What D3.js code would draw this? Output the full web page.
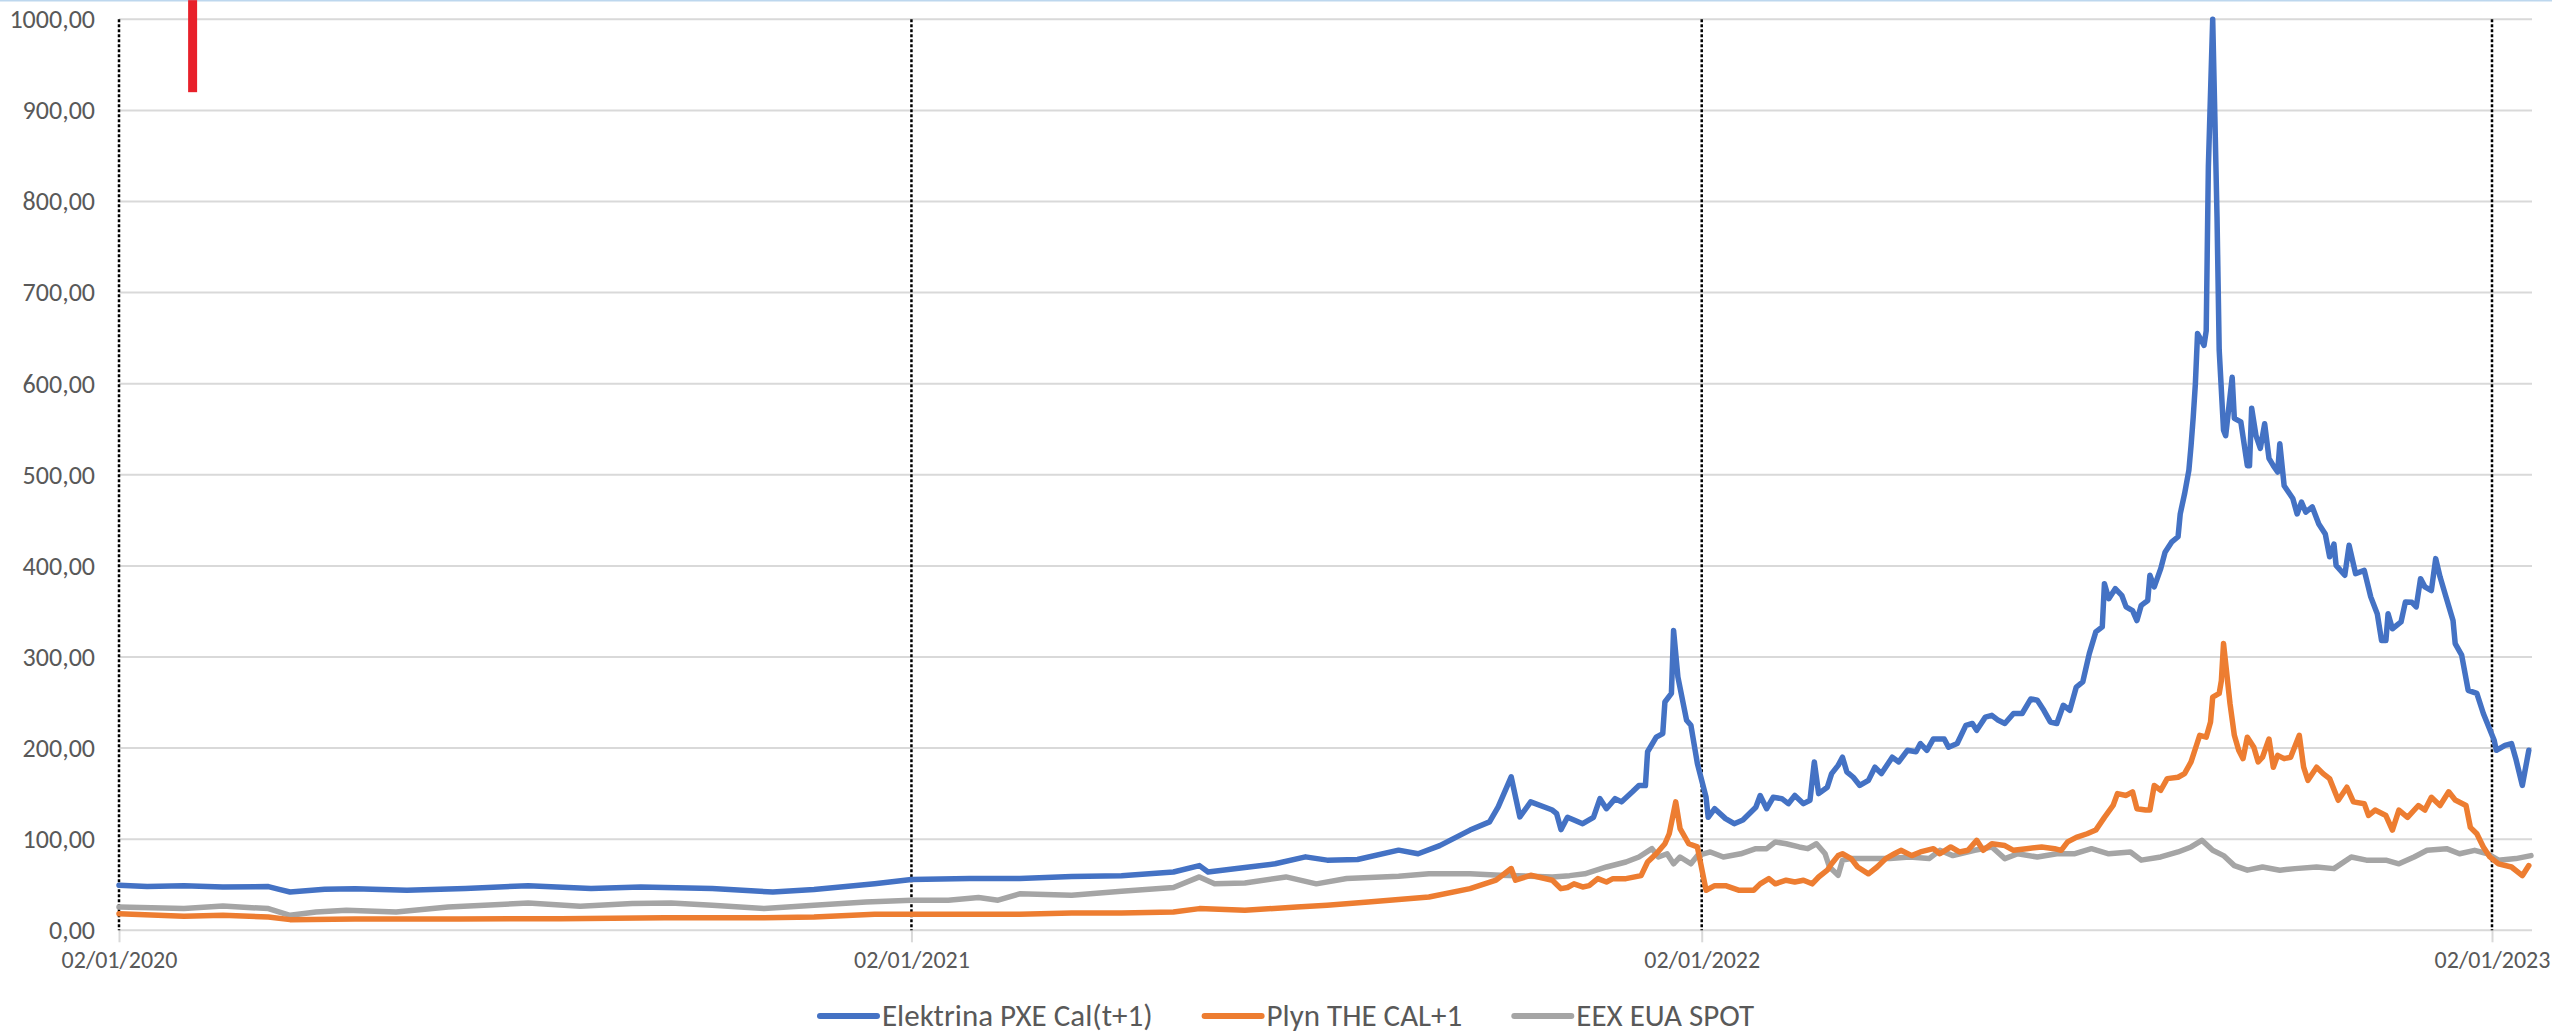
<!DOCTYPE html>
<html>
<head>
<meta charset="utf-8">
<script src="https://cdn.jsdelivr.net/npm/d3@7"></script>
<style>
  html, body { margin: 0; padding: 0; background: #fff; }
  #chart { width: 2552px; height: 1033px; overflow: hidden; }
  text { font-family: Carlito, Calibri, Lato, sans-serif; fill: #595959; }
</style>
</head>
<body>
<div id="chart"></div>
<script>
// series names as shown in the legend
const seriesNames = ["Elektrina PXE Cal(t+1)", "Plyn THE CAL+1", "EEX EUA SPOT"];

// [date, value]
const elektrina = [
  ["2020-01-02",49.5],["2020-01-15",48],["2020-02-01",49],["2020-02-19",47.5],["2020-03-11",48],["2020-03-16",45],["2020-03-21",42],
  ["2020-04-06",45],["2020-04-20",45.5],["2020-05-14",44],["2020-06-10",46],["2020-07-09",49],["2020-08-07",46],["2020-08-30",47.6],
  ["2020-10-02",46],["2020-10-30",42],["2020-11-18",44.7],["2020-12-16",51],
  ["2021-01-02",55.7],["2021-01-29",56.8],["2021-02-21",56.8],["2021-03-17",59],["2021-04-09",60],["2021-05-03",64],["2021-05-15",71],
  ["2021-05-19",64],["2021-06-05",69],["2021-06-19",73],["2021-07-03",80.6],["2021-07-13",77],["2021-07-27",77.7],["2021-08-15",88],
  ["2021-08-24",84],["2021-09-03",93],["2021-09-17",110],["2021-09-26",119],["2021-09-30",135.5],["2021-10-06",168.5],["2021-10-10",124.5],
  ["2021-10-15",141],["2021-10-25",132],["2021-10-27",128],["2021-10-29",110.5],["2021-11-01",124],["2021-11-04",121],["2021-11-08",117],
  ["2021-11-13",124],["2021-11-16",144.5],["2021-11-19",133.5],["2021-11-23",144.5],["2021-11-26",141],["2021-12-01",152],["2021-12-04",159],
  ["2021-12-07",159],["2021-12-08",196],["2021-12-12",212],["2021-12-15",216],["2021-12-16",250.6],["2021-12-19",260],["2021-12-20",329],
  ["2021-12-22",278],["2021-12-26",230.5],["2021-12-28",225],["2021-12-31",183],
  ["2022-01-04",146],["2022-01-05",124],["2022-01-08",133.5],["2022-01-13",122.6],["2022-01-17",117],["2022-01-21",121],["2022-01-27",135],
  ["2022-01-29",148],["2022-02-01",133.5],["2022-02-04",146],["2022-02-08",144.5],["2022-02-11",139],["2022-02-14",148],["2022-02-18",139],
  ["2022-02-21",142.7],["2022-02-23",184.8],["2022-02-25",150],["2022-03-01",157],["2022-03-03",172],["2022-03-06",181],["2022-03-08",190],
  ["2022-03-10",174],["2022-03-13",168],["2022-03-16",159],["2022-03-20",164.6],["2022-03-23",179],["2022-03-26",172],["2022-03-31",190],
  ["2022-04-03",184.8],["2022-04-07",197.6],["2022-04-11",196],["2022-04-13",205],["2022-04-16",197.6],["2022-04-19",210],["2022-04-24",210],
  ["2022-04-26",201],["2022-04-30",205],["2022-05-04",225],["2022-05-07",227],["2022-05-09",219.5],["2022-05-13",234],["2022-05-16",236],
  ["2022-05-19",230.5],["2022-05-22",227],["2022-05-26",238],["2022-05-30",238],["2022-06-03",254],["2022-06-06",252.5],["2022-06-09",241.5],
  ["2022-06-12",228.7],["2022-06-15",227],["2022-06-18",247],["2022-06-21",241.5],["2022-06-24",267],["2022-06-27",272.6],["2022-06-30",303.7],
  ["2022-07-03",327.5],["2022-07-06",333],["2022-07-07",380.5],["2022-07-09",364],["2022-07-12",375],["2022-07-15",367.7],["2022-07-17",355],
  ["2022-07-20",351],["2022-07-22",340],["2022-07-24",356.7],["2022-07-27",362],["2022-07-28",389.7],["2022-07-30",377],["2022-08-02",397],
  ["2022-08-04",415],["2022-08-07",426],["2022-08-10",432],["2022-08-11",457],["2022-08-13",479],["2022-08-15",505],["2022-08-16",532],
  ["2022-08-17",563],["2022-08-18",600],["2022-08-19",655],["2022-08-22",642],["2022-08-23",658],["2022-08-24",838],["2022-08-26",1000],
  ["2022-08-27",893],["2022-08-28",783],["2022-08-29",637],["2022-08-31",549],["2022-09-01",543],["2022-09-04",607],["2022-09-05",562],
  ["2022-09-08",558],["2022-09-11",510],["2022-09-12",510],["2022-09-13",573],["2022-09-15",543],["2022-09-17",529],["2022-09-19",556],
  ["2022-09-21",518],["2022-09-23",510],["2022-09-25",503],["2022-09-26",534],["2022-09-28",488],["2022-10-02",474],["2022-10-04",457],
  ["2022-10-06",470],["2022-10-08",459],["2022-10-11",464.7],["2022-10-14",446],["2022-10-17",435],["2022-10-19",410],["2022-10-21",424],
  ["2022-10-22",400.6],["2022-10-26",389.7],["2022-10-28",422.6],["2022-10-31",391.5],["2022-11-04",395],["2022-11-07",366],["2022-11-10",347.6],
  ["2022-11-12",318],["2022-11-14",318],["2022-11-15",347.6],["2022-11-17",331],["2022-11-21",338.5],["2022-11-23",360.4],["2022-11-26",360],
  ["2022-11-28",355],["2022-11-30",386],["2022-12-02",377],["2022-12-05",373],["2022-12-07",408],["2022-12-09",388],["2022-12-12",364],
  ["2022-12-15",340],["2022-12-16",314.7],["2022-12-19",302],["2022-12-22",263.4],["2022-12-26",260],["2022-12-29",238],["2023-01-03",208.6],
  ["2023-01-04",197.6],["2023-01-08",203],["2023-01-11",205],["2023-01-13",188.4],["2023-01-16",159],["2023-01-19",197.6]
];

const plyn = [
  ["2020-01-02",18.3],["2020-02-01",15.4],["2020-02-19",16.5],["2020-03-11",14.7],["2020-03-21",11.7],["2020-04-20",12.5],["2020-06-07",12.5],
  ["2020-07-24",12.8],["2020-09-10",13.9],["2020-10-26",13.9],["2020-11-18",14.7],["2020-12-16",17.6],
  ["2021-01-02",17.6],["2021-01-29",17.6],["2021-02-21",17.6],["2021-03-17",19],["2021-04-09",19],["2021-05-03",20],["2021-05-15",23.8],
  ["2021-06-05",22],["2021-06-29",25.6],["2021-07-13",27.5],["2021-08-01",31],["2021-08-15",33.7],["2021-08-29",36.6],["2021-09-17",45.8],
  ["2021-09-29",55],["2021-10-06",67.8],["2021-10-08",55],["2021-10-15",60.4],["2021-10-25",55],["2021-10-29",45.7],["2021-11-01",47],
  ["2021-11-04",51],["2021-11-08",47.6],["2021-11-11",49],["2021-11-15",56.7],["2021-11-19",53],["2021-11-22",56.7],["2021-11-28",56.7],
  ["2021-12-05",60],["2021-12-08",75],["2021-12-12",84],["2021-12-16",95],["2021-12-18",106],["2021-12-21",141],["2021-12-23",111.6],
  ["2021-12-27",95],["2021-12-31",91.5],
  ["2022-01-04",44],["2022-01-08",49],["2022-01-13",49],["2022-01-19",44],["2022-01-26",44],["2022-01-29",51],["2022-02-02",56.7],
  ["2022-02-05",51],["2022-02-10",55],["2022-02-14",53],["2022-02-18",55],["2022-02-22",51],["2022-02-25",58.5],["2022-03-01",66],
  ["2022-03-03",73],["2022-03-06",82],["2022-03-08",84],["2022-03-12",78.7],["2022-03-15",69.5],["2022-03-20",62],["2022-03-24",69.5],
  ["2022-03-28",78.7],["2022-04-01",84],["2022-04-04",87.8],["2022-04-09",82],["2022-04-13",86],["2022-04-19",89.6],["2022-04-22",84],
  ["2022-04-27",91.5],["2022-05-01",86],["2022-05-05",87.8],["2022-05-09",98.8],["2022-05-12",87.8],["2022-05-16",95],["2022-05-22",93],
  ["2022-05-26",87.8],["2022-06-01",89.6],["2022-06-08",91.5],["2022-06-14",89.6],["2022-06-17",87.8],["2022-06-20",97],["2022-06-24",102],
  ["2022-06-29",106],["2022-07-03",110],["2022-07-07",124],["2022-07-11",137],["2022-07-13",150],["2022-07-17",148],["2022-07-20",152],
  ["2022-07-22",133.5],["2022-07-26",132],["2022-07-28",132],["2022-07-30",159],["2022-08-02",153.7],["2022-08-05",166.5],["2022-08-10",168],
  ["2022-08-13",172],["2022-08-16",184.8],["2022-08-19",206.7],["2022-08-20",214],["2022-08-23",212],["2022-08-25",228.7],["2022-08-26",256],
  ["2022-08-29",260],["2022-08-30",274],["2022-08-31",314.7],["2022-09-03",248.8],["2022-09-05",214],["2022-09-07",197.6],["2022-09-09",188.4],
  ["2022-09-11",212],["2022-09-14",201],["2022-09-16",184.8],["2022-09-18",190],["2022-09-21",210],["2022-09-23",179],["2022-09-25",192],
  ["2022-09-28",188.4],["2022-10-01",190],["2022-10-05",214],["2022-10-07",179],["2022-10-09",164.6],["2022-10-13",179],["2022-10-16",172],
  ["2022-10-19",166.5],["2022-10-23",142.7],["2022-10-27",157],["2022-10-30",141],["2022-11-04",139],["2022-11-06",126],["2022-11-09",132],
  ["2022-11-14",126],["2022-11-17",110],["2022-11-20",132],["2022-11-24",124],["2022-11-29",137],["2022-12-02",132],["2022-12-05",146],
  ["2022-12-09",137],["2022-12-13",152],["2022-12-16",143],["2022-12-21",137],["2022-12-23",113],["2022-12-26",106],["2022-12-29",91.5],
  ["2023-01-01",80.5],["2023-01-05",73],["2023-01-11",69.5],["2023-01-16",60],["2023-01-19",71]
];

const euaSpot = [
  ["2020-01-02",25.6],["2020-02-01",23.8],["2020-02-19",26.7],["2020-03-11",23.8],["2020-03-21",16.5],["2020-04-02",20],["2020-04-16",22],
  ["2020-05-09",20],["2020-06-02",25.6],["2020-07-09",30],["2020-08-02",26.4],["2020-08-26",29.3],["2020-09-13",30],["2020-10-02",27.5],
  ["2020-10-26",23.8],["2020-11-18",27.5],["2020-12-12",31],
  ["2021-01-02",33],["2021-01-19",33],["2021-02-02",35.9],["2021-02-11",33],["2021-02-21",40],["2021-03-17",38.5],["2021-04-09",42.9],
  ["2021-05-03",46.9],["2021-05-15",58.6],["2021-05-22",51],["2021-06-05",52],["2021-06-24",58.6],["2021-07-08",51],["2021-07-22",56.8],
  ["2021-08-15",59.3],["2021-08-29",62],["2021-09-17",62],["2021-10-01",60.4],["2021-10-15",59.3],["2021-10-25",58.5],["2021-11-02",60],
  ["2021-11-09",62],["2021-11-19",69.5],["2021-11-28",75],["2021-12-04",80.5],["2021-12-10",89.6],["2021-12-13",80.5],["2021-12-17",84],
  ["2021-12-20",73],["2021-12-23",80.5],["2021-12-28",73],["2021-12-31",82],
  ["2022-01-06",86],["2022-01-12",80.5],["2022-01-20",84],["2022-01-27",89.6],["2022-02-01",89.6],["2022-02-05",97],["2022-02-10",95],
  ["2022-02-16",91.5],["2022-02-20",89.6],["2022-02-24",95],["2022-02-28",84],["2022-03-02",69.5],["2022-03-06",60.4],["2022-03-08",77],
  ["2022-03-12",78.7],["2022-03-21",78.7],["2022-03-30",78.7],["2022-04-08",80.5],["2022-04-17",78.7],["2022-04-22",87.8],["2022-04-28",82],
  ["2022-05-08",87.8],["2022-05-16",91.5],["2022-05-22",78.7],["2022-05-28",84],["2022-06-06",80.5],["2022-06-15",84],["2022-06-23",84],
  ["2022-07-01",89.6],["2022-07-09",84],["2022-07-19",86],["2022-07-24",77],["2022-08-02",80.5],["2022-08-10",86],["2022-08-16",91.5],
  ["2022-08-21",98.8],["2022-08-26",87.8],["2022-08-31",82],["2022-09-05",71],["2022-09-11",66],["2022-09-18",69.5],["2022-09-26",66],
  ["2022-10-03",67.7],["2022-10-13",69.5],["2022-10-21",67.7],["2022-10-29",80.5],["2022-11-05",77],["2022-11-14",77],["2022-11-20",73],
  ["2022-11-27",80.5],["2022-12-03",87.8],["2022-12-12",89.6],["2022-12-18",84],["2022-12-25",87.8],["2022-12-31",84],["2023-01-05",77],
  ["2023-01-13",78.7],["2023-01-20",82]
];

// axis ticks
const yTicks = [0, 100, 200, 300, 400, 500, 600, 700, 800, 900, 1000];
const xTickDates = ["2020-01-02", "2021-01-02", "2022-01-02", "2023-01-02"];

// red marker near the top left corner (date, value range)
const marker = { date: "2020-02-05", from: 920, to: 1021 };

let width = 2552,
    height = 1033,
    plotLeft = 119,
    plotRight = 2532,
    plotTop = 19.3,
    plotBottom = 930.3,
    colors = ["#4472c4", "#ed7d31", "#a5a5a5"],
    lineStroke = 5.5;

let parse = d3.timeParse("%Y-%m-%d");
let data = [elektrina, plyn, euaSpot].map((s, i) => ({
  name: seriesNames[i],
  values: s.map(d => ({ time: parse(d[0]), value: d[1] }))
}));

/* Scale */
let xScale = d3.scaleTime()
    .domain([parse(xTickDates[0]), parse(xTickDates[3])])
    .range([plotLeft, 2492]);

let yScale = d3.scaleLinear()
    .domain([0, 1000])
    .range([plotBottom, plotTop]);

let locale = d3.formatLocale({ decimal: ",", thousands: "", grouping: [3], currency: ["", ""] });
let yFormat = locale.format(".2f");
let xFormat = d3.timeFormat("%d/%m/%Y");

/* Add SVG */
let svg = d3.select("#chart").append("svg")
    .attr("width", width)
    .attr("height", height);

// thin selection border along the top
svg.append("line")
    .attr("x1", 0).attr("x2", width)
    .attr("y1", 0.75).attr("y2", 0.75)
    .attr("stroke", "#bdd7ee")
    .attr("stroke-width", 1.5);

/* Gridlines */
svg.append("g")
    .selectAll("line")
    .data(yTicks).enter()
    .append("line")
    .attr("x1", plotLeft)
    .attr("x2", plotRight)
    .attr("y1", d => yScale(d))
    .attr("y2", d => yScale(d))
    .attr("stroke", "#d9d9d9")
    .attr("stroke-width", 2);

/* Y axis labels */
let yAxis = d3.axisLeft(yScale)
    .tickValues(yTicks)
    .tickFormat(yFormat)
    .tickSize(0)
    .tickPadding(0);

let yAxisG = svg.append("g")
    .attr("transform", "translate(95,0)")
    .call(yAxis);
yAxisG.select(".domain").remove();
yAxisG.selectAll("text")
    .attr("fill", "#595959")
    .style("font-size", "26px");

/* X axis */
let xAxis = d3.axisBottom(xScale)
    .tickValues(xTickDates.map(parse))
    .tickFormat(xFormat)
    .tickSize(12)
    .tickPadding(9);

let xAxisG = svg.append("g")
    .attr("transform", `translate(0, ${plotBottom})`)
    .call(xAxis);
xAxisG.select(".domain").remove();
xAxisG.selectAll("line")
    .attr("stroke", "#d9d9d9")
    .attr("stroke-width", 2);
xAxisG.selectAll("text")
    .attr("fill", "#595959")
    .style("font-size", "24px");

/* Year separators */
svg.append("g")
    .selectAll("line")
    .data(xTickDates).enter()
    .append("line")
    .attr("x1", d => xScale(parse(d)))
    .attr("x2", d => xScale(parse(d)))
    .attr("y1", plotTop)
    .attr("y2", plotBottom)
    .attr("stroke", "#000")
    .attr("stroke-width", 2.5)
    .attr("stroke-dasharray", "3,2");

/* Lines */
let line = d3.line()
    .x(d => xScale(d.time))
    .y(d => yScale(d.value));

svg.append("g")
    .attr("class", "lines")
    .selectAll("path")
    .data(data.slice().reverse()).enter()
    .append("path")
    .attr("d", d => line(d.values))
    .attr("fill", "none")
    .attr("stroke", d => colors[seriesNames.indexOf(d.name)])
    .attr("stroke-width", lineStroke)
    .attr("stroke-linejoin", "round")
    .attr("stroke-linecap", "round");

/* Red marker */
svg.append("rect")
    .attr("x", xScale(parse(marker.date)) - 4.5)
    .attr("width", 9)
    .attr("y", yScale(marker.to))
    .attr("height", yScale(marker.from) - yScale(marker.to))
    .attr("fill", "#e8202a");

/* Legend */
let legend = svg.append("g").attr("class", "legend");
let items = legend.selectAll("g")
    .data(seriesNames).enter()
    .append("g");

items.append("line")
    .attr("x1", 0).attr("x2", 57)
    .attr("y1", 0).attr("y2", 0)
    .attr("stroke", (d, i) => colors[i])
    .attr("stroke-width", 6)
    .attr("stroke-linecap", "round");

items.append("text")
    .attr("x", 62)
    .attr("y", 0)
    .attr("dy", "0.33em")
    .style("font-size", "31px")
    .text(d => d);

let offset = 0, positions = [];
items.each(function() {
  positions.push(offset);
  offset += this.getBBox().width + 52;
});
offset -= 52;
items.attr("transform", (d, i) => `translate(${1287 - offset / 2 + positions[i]}, 1016)`);
</script>
</body>
</html>
